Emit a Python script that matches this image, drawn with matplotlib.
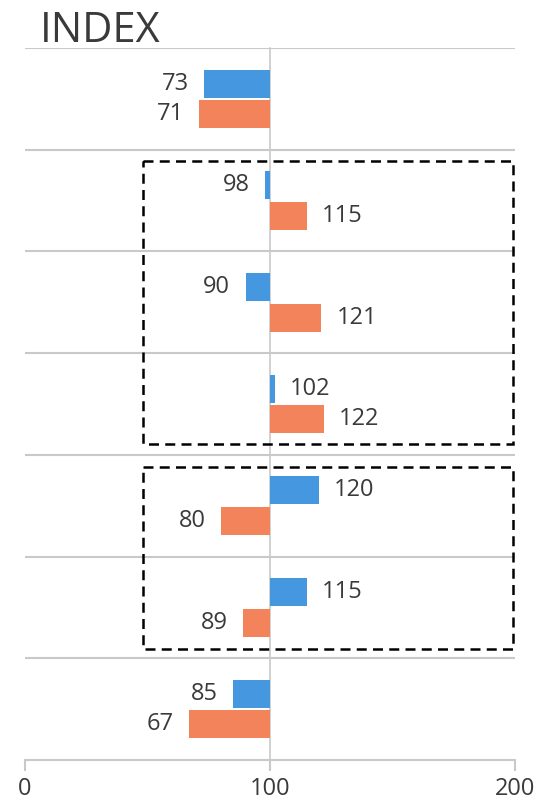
import matplotlib
matplotlib.use("Agg")
import matplotlib.pyplot as plt
from matplotlib.patches import Rectangle
import numpy as np

plt.rcParams['font.family'] = ['Open Sans', 'DejaVu Sans']

# data, top row first
blueValues = [73, 98, 90, 102, 120, 115, 85]
orangeValues = [71, 115, 121, 122, 80, 89, 67]
baseIndex = 100
xTicks = [0, 100, 200]

blueColor = "#4597E0"
orangeColor = "#F3835B"
textColor = "#3A3A3A"
gridColor = "#C9C9C9"
fontsize = 17

fig = plt.figure(figsize=(5.39, 8.06), dpi=100)
ax = fig.add_axes([25 / 539, 46 / 806, 490 / 539, 712 / 806])

rows = np.arange(len(blueValues))
barHeight = 0.275
offset = 0.15

blueWidths = [v - baseIndex for v in blueValues]
orangeWidths = [v - baseIndex for v in orangeValues]
ax.barh(rows - offset, blueWidths, left=baseIndex, height=barHeight, color=blueColor, zorder=3)
ax.barh(rows + offset, orangeWidths, left=baseIndex, height=barHeight, color=orangeColor, zorder=3)

# value labels outside the bar end
for values, shift in [(blueValues, -offset), (orangeValues, offset)]:
    for i, v in enumerate(values):
        if v < baseIndex:
            ax.annotate(str(v), (v, i + shift), xytext=(-11, 0), textcoords="offset points",
                        ha="right", va="center", fontsize=fontsize, color=textColor)
        else:
            ax.annotate(str(v), (v, i + shift), xytext=(11, 0), textcoords="offset points",
                        ha="left", va="center", fontsize=fontsize, color=textColor)

# row separators and the 100 line
for k in range(len(blueValues)):
    ax.axhline(k - 0.5, color=gridColor, lw=1.5, zorder=1)
ax.axvline(baseIndex, color=gridColor, lw=1.2, zorder=2, ymin=-0.013, clip_on=False)

ax.set_xlim(0, 200)
ax.set_ylim(len(blueValues) - 0.5, -0.5)
ax.set_yticks([])
ax.set_xticks(xTicks)
ax.tick_params(axis='x', length=8, width=1.5, color=gridColor, labelcolor=textColor,
               labelsize=fontsize, pad=4)
for side in ["top", "left", "right"]:
    ax.spines[side].set_visible(False)
ax.spines["bottom"].set_color(gridColor)
ax.spines["bottom"].set_linewidth(1.5)

# dashed group boxes
for y0, y1 in [(0.61, 3.395), (3.62, 5.41)]:
    ax.add_patch(Rectangle((48, y0), 151, y1 - y0, fill=False, edgecolor="black",
                           lw=1.8, linestyle=(0, (4, 2.5)), zorder=4, clip_on=False))

fig.text(40 / 539, (806 - 42) / 806, "INDEX", fontsize=30, color=textColor, va="baseline")

fig.savefig("out.png", dpi=100)
